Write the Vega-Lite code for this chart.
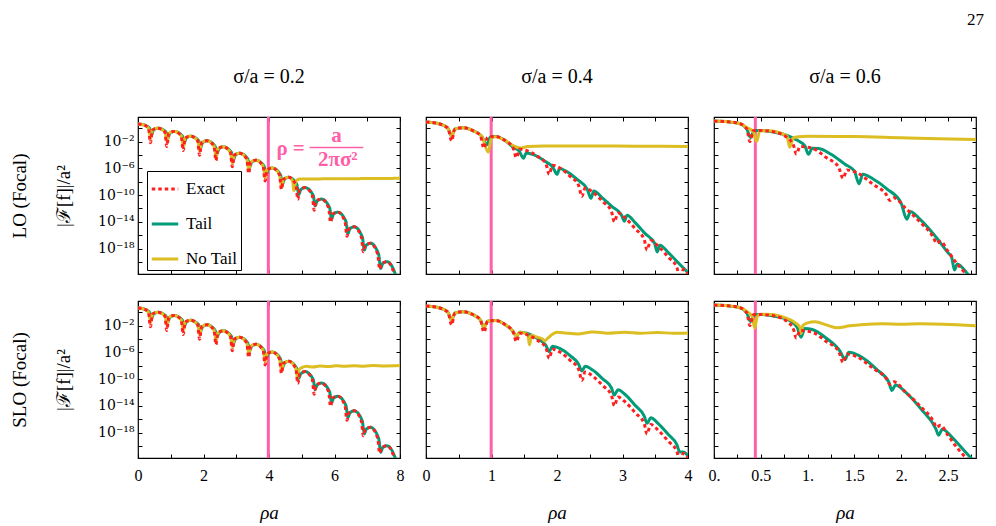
{
  "$schema": "https://vega.github.io/schema/vega-lite/v6.json",
  "background": "white",
  "padding": {"left": 9, "top": 10, "right": 10, "bottom": 4},
  "title": {"text": "27", "anchor": "end", "font": "Liberation Serif", "fontSize": 17, "offset": 20, "dx": 7, "baseline": "bottom"},
  "config": {
    "font": "Liberation Serif",
    "view": {"stroke": "black", "strokeWidth": 1.2},
    "title": {"font": "Liberation Serif", "fontWeight": "normal", "color": "black"},
    "axis": {"domain": false, "tickColor": "black", "tickSize": -4, "tickWidth": 1, "labelFont": "Liberation Serif", "labelColor": "black", "labelFlush": false, "labelOverlap": false, "gridColor": "#cfcfcf", "gridWidth": 1, "titleFont": "Liberation Serif", "titleFontWeight": "normal", "titleColor": "black"},
    "axisTop": {"labels": false, "grid": false},
    "axisRight": {"labels": false, "grid": false},
    "axisLeft": {"grid": true, "labelPadding": 8, "labelFontSize": 14, "labelFont": "DejaVu Serif"},
    "axisBottom": {"grid": true, "labelPadding": 13, "labelFontSize": 16, "labelFont": "Liberation Serif"}
  },
  "datasets": {
    "e1": [{"x":0,"y":4},{"x":0.16,"y":3.2},{"x":0.32,"y":1},{"x":0.38,"y":6.3e-3},{"x":0.44,"y":0.5},{"x":0.6,"y":1},{"x":0.82,"y":0.28},{"x":0.88,"y":1.8e-3},{"x":0.94,"y":0.16},{"x":1.1,"y":0.32},{"x":1.32,"y":7.1e-2},{"x":1.38,"y":4.5e-4},{"x":1.44,"y":3.2e-2},{"x":1.6,"y":6.3e-2},{"x":1.82,"y":1.4e-2},{"x":1.88,"y":8.9e-5},{"x":1.94,"y":6.3e-3},{"x":2.1,"y":1.3e-2},{"x":2.32,"y":2.2e-3},{"x":2.38,"y":1.4e-5},{"x":2.44,"y":7.9e-4},{"x":2.6,"y":1.6e-3},{"x":2.82,"y":2.6e-4},{"x":2.88,"y":1.7e-6},{"x":2.94,"y":8.9e-5},{"x":3.1,"y":1.8e-4},{"x":3.32,"y":2.6e-5},{"x":3.38,"y":1.7e-7},{"x":3.44,"y":7.9e-6},{"x":3.6,"y":1.6e-5},{"x":3.82,"y":2.1e-6},{"x":3.88,"y":1.3e-8},{"x":3.94,"y":5.6e-7},{"x":4.1,"y":1.1e-6},{"x":4.32,"y":1.1e-7},{"x":4.38,"y":7.1e-10},{"x":4.44,"y":2.2e-8},{"x":4.6,"y":4.5e-8},{"x":4.82,"y":3.7e-9},{"x":4.88,"y":2.3e-11},{"x":4.94,"y":6.3e-10},{"x":5.1,"y":1.3e-9},{"x":5.32,"y":8.9e-11},{"x":5.38,"y":5.6e-13},{"x":5.44,"y":1.3e-11},{"x":5.6,"y":2.5e-11},{"x":5.82,"y":1.3e-12},{"x":5.88,"y":8.3e-15},{"x":5.94,"y":1.4e-13},{"x":6.1,"y":2.8e-13},{"x":6.32,"y":1.1e-14},{"x":6.38,"y":7.1e-17},{"x":6.44,"y":8.9e-16},{"x":6.6,"y":1.8e-15},{"x":6.82,"y":5.2e-17},{"x":6.88,"y":3.3e-19},{"x":6.94,"y":3.2e-18},{"x":7.1,"y":6.3e-18},{"x":7.32,"y":1.3e-19},{"x":7.38,"y":8.3e-22},{"x":7.44,"y":5.6e-21},{"x":7.6,"y":1.1e-20},{"x":7.82,"y":1.9e-22},{"x":7.88,"y":1e-24}],
    "t1": [{"x":0,"y":4},{"x":0.16,"y":3.2},{"x":0.35,"y":1},{"x":0.41,"y":0.1},{"x":0.47,"y":0.5},{"x":0.6,"y":1},{"x":0.85,"y":0.28},{"x":0.91,"y":3.2e-2},{"x":0.97,"y":0.16},{"x":1.1,"y":0.32},{"x":1.35,"y":7.1e-2},{"x":1.41,"y":6.3e-3},{"x":1.47,"y":3.2e-2},{"x":1.6,"y":6.3e-2},{"x":1.85,"y":1.4e-2},{"x":1.91,"y":1.26e-3},{"x":1.97,"y":6.3e-3},{"x":2.1,"y":1.3e-2},{"x":2.35,"y":2.2e-3},{"x":2.41,"y":1.6e-4},{"x":2.47,"y":7.9e-4},{"x":2.6,"y":1.6e-3},{"x":2.85,"y":2.6e-4},{"x":2.91,"y":1.8e-5},{"x":2.97,"y":8.9e-5},{"x":3.1,"y":1.8e-4},{"x":3.35,"y":2.6e-5},{"x":3.41,"y":1.6e-6},{"x":3.47,"y":7.9e-6},{"x":3.6,"y":1.6e-5},{"x":3.85,"y":2.1e-6},{"x":3.91,"y":1.1e-7},{"x":3.97,"y":5.6e-7},{"x":4.1,"y":1.1e-6},{"x":4.35,"y":1.1e-7},{"x":4.41,"y":4.5e-9},{"x":4.47,"y":2.2e-8},{"x":4.6,"y":4.5e-8},{"x":4.85,"y":3.7e-9},{"x":4.91,"y":1.26e-10},{"x":4.97,"y":6.3e-10},{"x":5.1,"y":1.3e-9},{"x":5.35,"y":8.9e-11},{"x":5.41,"y":2.5e-12},{"x":5.47,"y":1.3e-11},{"x":5.6,"y":2.5e-11},{"x":5.85,"y":1.3e-12},{"x":5.91,"y":2.8e-14},{"x":5.97,"y":1.4e-13},{"x":6.1,"y":2.8e-13},{"x":6.35,"y":1.1e-14},{"x":6.41,"y":1.8e-16},{"x":6.47,"y":8.9e-16},{"x":6.6,"y":1.8e-15},{"x":6.85,"y":5.2e-17},{"x":6.91,"y":6.3e-19},{"x":6.97,"y":3.2e-18},{"x":7.1,"y":6.3e-18},{"x":7.35,"y":1.3e-19},{"x":7.41,"y":1.1e-21},{"x":7.47,"y":5.6e-21},{"x":7.6,"y":1.1e-20},{"x":7.85,"y":1.9e-22},{"x":7.91,"y":1e-23},{"x":8,"y":1e-24}],
    "n1L": [{"x":0,"y":4},{"x":0.16,"y":3.2},{"x":0.32,"y":1},{"x":0.39,"y":3.2e-2},{"x":0.44,"y":0.5},{"x":0.6,"y":1},{"x":0.82,"y":0.28},{"x":0.89,"y":1e-2},{"x":0.94,"y":0.16},{"x":1.1,"y":0.32},{"x":1.32,"y":7.1e-2},{"x":1.39,"y":2e-3},{"x":1.44,"y":3.2e-2},{"x":1.6,"y":6.3e-2},{"x":1.82,"y":1.4e-2},{"x":1.89,"y":4e-4},{"x":1.94,"y":6.3e-3},{"x":2.1,"y":1.3e-2},{"x":2.32,"y":2.2e-3},{"x":2.39,"y":5e-5},{"x":2.44,"y":7.9e-4},{"x":2.6,"y":1.6e-3},{"x":2.82,"y":2.6e-4},{"x":2.89,"y":5.6e-6},{"x":2.94,"y":8.9e-5},{"x":3.1,"y":1.8e-4},{"x":3.32,"y":2.6e-5},{"x":3.39,"y":5e-7},{"x":3.44,"y":7.9e-6},{"x":3.6,"y":1.6e-5},{"x":3.82,"y":2.1e-6},{"x":3.89,"y":3.5e-8},{"x":3.94,"y":5.6e-7},{"x":4.1,"y":1.1e-6},{"x":4.32,"y":1.1e-7},{"x":4.39,"y":1.4e-9},{"x":4.44,"y":2.2e-8},{"x":4.6,"y":4.5e-8},{"x":4.72,"y":1.26e-8},{"x":4.76,"y":5e-10},{"x":4.82,"y":1.26e-8},{"x":4.95,"y":2.5e-8},{"x":5.5,"y":2.6e-8},{"x":6.5,"y":2.8e-8},{"x":7.5,"y":3e-8},{"x":8,"y":3.2e-8}],
    "n1S": [{"x":0,"y":4},{"x":0.16,"y":3.2},{"x":0.32,"y":1},{"x":0.39,"y":3.2e-2},{"x":0.44,"y":0.5},{"x":0.6,"y":1},{"x":0.82,"y":0.28},{"x":0.89,"y":1e-2},{"x":0.94,"y":0.16},{"x":1.1,"y":0.32},{"x":1.32,"y":7.1e-2},{"x":1.39,"y":2e-3},{"x":1.44,"y":3.2e-2},{"x":1.6,"y":6.3e-2},{"x":1.82,"y":1.4e-2},{"x":1.89,"y":4e-4},{"x":1.94,"y":6.3e-3},{"x":2.1,"y":1.3e-2},{"x":2.32,"y":2.2e-3},{"x":2.39,"y":5e-5},{"x":2.44,"y":7.9e-4},{"x":2.6,"y":1.6e-3},{"x":2.82,"y":2.6e-4},{"x":2.89,"y":5.6e-6},{"x":2.94,"y":8.9e-5},{"x":3.1,"y":1.8e-4},{"x":3.32,"y":2.6e-5},{"x":3.39,"y":5e-7},{"x":3.44,"y":7.9e-6},{"x":3.6,"y":1.6e-5},{"x":3.82,"y":2.1e-6},{"x":3.89,"y":3.5e-8},{"x":3.94,"y":5.6e-7},{"x":4.1,"y":1.1e-6},{"x":4.32,"y":1.1e-7},{"x":4.39,"y":1.4e-9},{"x":4.44,"y":2.2e-8},{"x":4.6,"y":4.5e-8},{"x":4.82,"y":3.7e-9},{"x":4.87,"y":1.26e-10},{"x":4.92,"y":2.5e-9},{"x":5.0,"y":5e-9},{"x":5.15,"y":7.9e-9},{"x":5.35,"y":6.3e-9},{"x":5.55,"y":8.9e-9},{"x":5.8,"y":7.6e-9},{"x":6.05,"y":9.5e-9},{"x":6.3,"y":8e-9},{"x":6.6,"y":1e-8},{"x":6.9,"y":8.5e-9},{"x":7.2,"y":1.05e-8},{"x":7.5,"y":9.3e-9},{"x":8,"y":1.05e-8}],
    "e2": [{"x":0,"y":7.9},{"x":0.15,"y":5.6},{"x":0.28,"y":2.2},{"x":0.34,"y":0.79},{"x":0.39,"y":1.26e-2},{"x":0.44,"y":0.71},{"x":0.57,"y":1.12},{"x":0.72,"y":0.4},{"x":0.83,"y":7.1e-2},{"x":0.885,"y":1e-3},{"x":0.94,"y":4.5e-2},{"x":1.06,"y":5.6e-2},{"x":1.2,"y":1.6e-2},{"x":1.33,"y":1.1e-3},{"x":1.38,"y":4e-5},{"x":1.43,"y":7.1e-4},{"x":1.55,"y":4e-4},{"x":1.7,"y":6.3e-5},{"x":1.83,"y":5e-6},{"x":1.88,"y":1.26e-7},{"x":1.93,"y":2.8e-6},{"x":2.05,"y":1e-6},{"x":2.2,"y":6.3e-8},{"x":2.33,"y":2.8e-9},{"x":2.38,"y":6.3e-11},{"x":2.43,"y":1.12e-9},{"x":2.55,"y":2.5e-10},{"x":2.7,"y":1e-11},{"x":2.83,"y":4e-13},{"x":2.875,"y":1e-14},{"x":2.93,"y":2e-13},{"x":3.05,"y":3.2e-14},{"x":3.2,"y":7.9e-16},{"x":3.33,"y":2.5e-17},{"x":3.375,"y":6.3e-19},{"x":3.43,"y":1.6e-17},{"x":3.55,"y":2e-18},{"x":3.7,"y":5e-20},{"x":3.83,"y":1.6e-21},{"x":3.875,"y":3.2e-23},{"x":3.93,"y":7.9e-22},{"x":4,"y":1.6e-22}],
    "t2L": [{"x":0,"y":7.9},{"x":0.15,"y":5.6},{"x":0.28,"y":2.2},{"x":0.34,"y":0.79},{"x":0.39,"y":6.3e-2},{"x":0.44,"y":0.71},{"x":0.57,"y":1.12},{"x":0.72,"y":0.4},{"x":0.85,"y":6.3e-2},{"x":0.93,"y":3.2e-3},{"x":0.98,"y":4.5e-2},{"x":1.06,"y":5.6e-2},{"x":1.2,"y":1.6e-2},{"x":1.33,"y":1.4e-3},{"x":1.42,"y":4e-4},{"x":1.49,"y":3.2e-5},{"x":1.53,"y":2e-4},{"x":1.65,"y":1e-4},{"x":1.8,"y":1.4e-5},{"x":1.94,"y":1.26e-6},{"x":2.0,"y":1.26e-7},{"x":2.04,"y":8.9e-7},{"x":2.15,"y":3.2e-7},{"x":2.3,"y":2.5e-8},{"x":2.46,"y":7.9e-10},{"x":2.52,"y":3.2e-11},{"x":2.56,"y":4e-10},{"x":2.7,"y":3.2e-11},{"x":2.85,"y":1.6e-12},{"x":2.98,"y":1.26e-13},{"x":3.03,"y":1.26e-14},{"x":3.07,"y":1e-13},{"x":3.2,"y":6.3e-15},{"x":3.35,"y":1.6e-16},{"x":3.49,"y":6.3e-18},{"x":3.53,"y":3.2e-19},{"x":3.57,"y":3.2e-18},{"x":3.7,"y":2.5e-19},{"x":3.85,"y":7.9e-21},{"x":4,"y":2.5e-22}],
    "n2L": [{"x":0,"y":7.9},{"x":0.15,"y":5.6},{"x":0.28,"y":2.2},{"x":0.34,"y":0.79},{"x":0.395,"y":6.3e-2},{"x":0.44,"y":0.71},{"x":0.57,"y":1.12},{"x":0.72,"y":0.4},{"x":0.85,"y":6.3e-2},{"x":0.95,"y":2.5e-4},{"x":1.0,"y":4e-2},{"x":1.06,"y":5e-2},{"x":1.2,"y":1.6e-2},{"x":1.33,"y":2.5e-3},{"x":1.45,"y":1.1e-3},{"x":1.55,"y":1.8e-3},{"x":1.8,"y":2.2e-3},{"x":2.5,"y":2.2e-3},{"x":3.2,"y":2e-3},{"x":4,"y":1.8e-3}],
    "t2S": [{"x":0,"y":7.9},{"x":0.15,"y":5.6},{"x":0.28,"y":2.2},{"x":0.34,"y":0.79},{"x":0.39,"y":6.3e-2},{"x":0.44,"y":0.71},{"x":0.57,"y":1.12},{"x":0.72,"y":0.4},{"x":0.83,"y":7.1e-2},{"x":0.885,"y":5e-3},{"x":0.94,"y":4.5e-2},{"x":1.06,"y":5.6e-2},{"x":1.2,"y":1.6e-2},{"x":1.33,"y":1.26e-3},{"x":1.38,"y":2.5e-4},{"x":1.43,"y":1e-3},{"x":1.55,"y":6.3e-4},{"x":1.7,"y":1.12e-4},{"x":1.83,"y":1.12e-5},{"x":1.88,"y":1.26e-6},{"x":1.93,"y":7.9e-6},{"x":2.05,"y":3.5e-6},{"x":2.2,"y":3.2e-7},{"x":2.33,"y":1.6e-8},{"x":2.38,"y":1.6e-9},{"x":2.43,"y":7.9e-9},{"x":2.55,"y":2e-9},{"x":2.7,"y":1e-10},{"x":2.83,"y":5e-12},{"x":2.875,"y":4e-13},{"x":2.93,"y":2.5e-12},{"x":3.05,"y":4e-13},{"x":3.2,"y":1e-14},{"x":3.33,"y":3.2e-16},{"x":3.375,"y":2.5e-17},{"x":3.43,"y":1.6e-16},{"x":3.55,"y":2e-17},{"x":3.7,"y":5e-19},{"x":3.83,"y":1.6e-20},{"x":3.875,"y":1.26e-21},{"x":3.93,"y":1.26e-21},{"x":4,"y":3.2e-22}],
    "n2S": [{"x":0,"y":7.9},{"x":0.15,"y":5.6},{"x":0.28,"y":2.2},{"x":0.34,"y":0.79},{"x":0.39,"y":6.3e-2},{"x":0.44,"y":0.71},{"x":0.57,"y":1.12},{"x":0.72,"y":0.4},{"x":0.83,"y":7.1e-2},{"x":0.885,"y":5e-3},{"x":0.94,"y":4.5e-2},{"x":1.06,"y":5.6e-2},{"x":1.2,"y":1.6e-2},{"x":1.33,"y":1.26e-3},{"x":1.38,"y":2.5e-4},{"x":1.43,"y":1e-3},{"x":1.5,"y":7.9e-4},{"x":1.555,"y":4e-4},{"x":1.58,"y":1.26e-5},{"x":1.61,"y":3.2e-4},{"x":1.7,"y":1.8e-4},{"x":1.78,"y":1e-4},{"x":1.81,"y":5e-5},{"x":1.86,"y":1.26e-4},{"x":1.93,"y":5e-4},{"x":2.0,"y":1e-3},{"x":2.15,"y":7.1e-4},{"x":2.32,"y":5.6e-4},{"x":2.5,"y":1e-3},{"x":2.57,"y":1.12e-3},{"x":2.77,"y":7.1e-4},{"x":3.03,"y":1e-3},{"x":3.28,"y":7.1e-4},{"x":3.53,"y":8.9e-4},{"x":3.78,"y":7.1e-4},{"x":4,"y":7.9e-4}],
    "e3": [{"x":0,"y":11.2},{"x":0.15,"y":8.9},{"x":0.28,"y":4.5},{"x":0.35,"y":0.79},{"x":0.385,"y":1e-2},{"x":0.42,"y":0.4},{"x":0.5,"y":0.45},{"x":0.65,"y":0.25},{"x":0.78,"y":4e-2},{"x":0.85,"y":2.5e-3},{"x":0.88,"y":1.4e-4},{"x":0.92,"y":1.8e-3},{"x":1.05,"y":1e-3},{"x":1.2,"y":4e-5},{"x":1.33,"y":1.6e-6},{"x":1.38,"y":3.2e-8},{"x":1.42,"y":5.6e-7},{"x":1.53,"y":2e-7},{"x":1.7,"y":4e-9},{"x":1.84,"y":1.26e-10},{"x":1.88,"y":1.6e-11},{"x":1.92,"y":4e-11},{"x":2.05,"y":1e-12},{"x":2.2,"y":1e-14},{"x":2.34,"y":6.3e-17},{"x":2.38,"y":6.3e-18},{"x":2.42,"y":1.26e-17},{"x":2.5,"y":4e-19},{"x":2.6,"y":5e-21},{"x":2.7,"y":1.26e-22},{"x":2.8,"y":3.2e-24}],
    "t3L": [{"x":0,"y":11.2},{"x":0.15,"y":8.9},{"x":0.28,"y":4.5},{"x":0.35,"y":0.79},{"x":0.39,"y":4e-2},{"x":0.43,"y":0.4},{"x":0.5,"y":0.45},{"x":0.65,"y":0.25},{"x":0.78,"y":7.9e-2},{"x":0.9,"y":1.26e-2},{"x":0.97,"y":2.5e-3},{"x":1.01,"y":1.26e-4},{"x":1.05,"y":1e-3},{"x":1.12,"y":8.9e-4},{"x":1.25,"y":1.26e-4},{"x":1.4,"y":4e-6},{"x":1.5,"y":4e-7},{"x":1.55,"y":5e-9},{"x":1.59,"y":1.26e-7},{"x":1.7,"y":2.5e-8},{"x":1.85,"y":7.9e-10},{"x":2.0,"y":6.3e-12},{"x":2.06,"y":2.5e-14},{"x":2.1,"y":3.2e-13},{"x":2.2,"y":2.5e-14},{"x":2.35,"y":1.26e-16},{"x":2.5,"y":2.5e-19},{"x":2.54,"y":5e-20},{"x":2.57,"y":6.3e-22},{"x":2.6,"y":5e-21},{"x":2.7,"y":2.5e-22},{"x":2.8,"y":6.3e-24}],
    "n3L": [{"x":0,"y":11.2},{"x":0.15,"y":8.9},{"x":0.28,"y":4.5},{"x":0.36,"y":1},{"x":0.42,"y":0.32},{"x":0.455,"y":1e-2},{"x":0.49,"y":0.4},{"x":0.6,"y":0.4},{"x":0.72,"y":0.16},{"x":0.78,"y":6.3e-2},{"x":0.81,"y":1.4e-3},{"x":0.845,"y":3.2e-2},{"x":0.9,"y":5e-2},{"x":1.0,"y":6e-2},{"x":1.5,"y":5.6e-2},{"x":2.0,"y":3.5e-2},{"x":2.4,"y":2.5e-2},{"x":2.8,"y":2e-2}],
    "t3S": [{"x":0,"y":11.2},{"x":0.15,"y":8.9},{"x":0.28,"y":4.5},{"x":0.35,"y":0.79},{"x":0.39,"y":4e-2},{"x":0.43,"y":0.4},{"x":0.5,"y":0.45},{"x":0.65,"y":0.25},{"x":0.8,"y":6.3e-2},{"x":0.89,"y":5e-3},{"x":0.93,"y":1.8e-4},{"x":0.97,"y":3.5e-3},{"x":1.05,"y":2.5e-3},{"x":1.2,"y":1.26e-4},{"x":1.35,"y":1.26e-6},{"x":1.4,"y":7.9e-8},{"x":1.44,"y":1e-6},{"x":1.55,"y":3.2e-7},{"x":1.75,"y":2e-9},{"x":1.87,"y":3.2e-11},{"x":1.9,"y":2e-12},{"x":1.94,"y":1.26e-11},{"x":2.05,"y":1e-12},{"x":2.22,"y":2.5e-15},{"x":2.37,"y":4e-18},{"x":2.4,"y":4e-19},{"x":2.44,"y":3.2e-18},{"x":2.55,"y":1.6e-19},{"x":2.68,"y":1.6e-21},{"x":2.76,"y":1e-22},{"x":2.8,"y":2.5e-23}],
    "n3S": [{"x":0,"y":11.2},{"x":0.15,"y":8.9},{"x":0.28,"y":4.5},{"x":0.36,"y":1},{"x":0.41,"y":0.2},{"x":0.435,"y":4e-3},{"x":0.46,"y":0.2},{"x":0.5,"y":0.5},{"x":0.62,"y":0.45},{"x":0.75,"y":0.16},{"x":0.87,"y":2.5e-2},{"x":0.92,"y":5e-3},{"x":0.93,"y":6.3e-4},{"x":0.95,"y":1e-2},{"x":1.0,"y":2.5e-2},{"x":1.08,"y":3.5e-2},{"x":1.2,"y":1.26e-2},{"x":1.32,"y":4.5e-3},{"x":1.45,"y":8.9e-3},{"x":1.6,"y":1.4e-2},{"x":1.8,"y":1.8e-2},{"x":2.0,"y":1.6e-2},{"x":2.2,"y":1.8e-2},{"x":2.45,"y":1.6e-2},{"x":2.8,"y":8.9e-3}]
  },
  "resolve": {"scale": {"color": "independent", "strokeDash": "independent"}, "legend": {"color": "independent", "strokeDash": "independent"}},
  "columns": 3,
  "bounds": "flush",
  "spacing": {"row": 27, "column": 26},
  "concat": [
    {
      "width": 262, "height": 157,
      "title": {"text": "σ/a = 0.2", "font": "Liberation Serif", "fontSize": 20, "offset": 9, "baseline": "bottom"},
      "resolve": {"axis": {"x": "independent", "y": "independent"}},
      "layer": [
        {"data": {"values": [{}]}, "mark": {"type": "rule", "color": "#ff5fa8", "strokeWidth": 3},
         "encoding": {"x": {"datum": 3.98, "type": "quantitative", "scale": {"domain": [0, 8], "nice": false}, "axis": null}}},
        {"data": {"name": "t1"}, "mark": {"type": "line", "interpolate": "monotone", "strokeWidth": 3, "clip": true},
         "encoding": {
           "x": {"field": "x", "type": "quantitative", "scale": {"domain": [0, 8], "nice": false}, "axis": {"orient": "top", "values": [0,1,2,3,4,5,6,7,8], "title": null}},
           "y": {"field": "y", "type": "quantitative", "scale": {"type": "log", "domain": [1.6e-22, 46], "nice": false}, "axis": {"orient": "right", "values": [1,1e-2,1e-4,1e-6,1e-8,1e-10,1e-12,1e-14,1e-16,1e-18,1e-20], "title": null}},
           "color": {"datum": "Tail", "type": "nominal", "scale": {"domain": ["Exact", "Tail", "No Tail"], "range": ["#ff1f1f", "#009b77", "#dcbd22"]},
             "legend": {"orient": "none", "legendX": 9, "legendY": 54, "title": null, "fillColor": "white", "strokeColor": "black", "padding": 3, "symbolType": "stroke", "symbolSize": 700, "symbolStrokeWidth": 3, "labelFontSize": 17, "labelFont": "Liberation Serif", "labelColor": "black", "rowPadding": 12, "labelOffset": 6}},
           "strokeDash": {"datum": "Tail", "type": "nominal", "scale": {"domain": ["Exact", "Tail", "No Tail"], "range": [[3.5, 3], [1, 0], [1, 0]]},
             "legend": {"orient": "none", "legendX": 9, "legendY": 54, "title": null, "fillColor": "white", "strokeColor": "black", "padding": 3, "symbolType": "stroke", "symbolSize": 700, "symbolStrokeWidth": 3, "labelFontSize": 17, "labelFont": "Liberation Serif", "labelColor": "black", "rowPadding": 12, "labelOffset": 6}}}},
        {"data": {"name": "n1L"}, "mark": {"type": "line", "interpolate": "monotone", "strokeWidth": 3, "clip": true},
         "encoding": {
           "x": {"field": "x", "type": "quantitative", "scale": {"domain": [0, 8], "nice": false}, "axis": null},
           "y": {"field": "y", "type": "quantitative", "scale": {"type": "log", "domain": [1.6e-22, 46], "nice": false}, "axis": null},
           "color": {"datum": "No Tail", "type": "nominal", "scale": {"domain": ["Exact", "Tail", "No Tail"], "range": ["#ff1f1f", "#009b77", "#dcbd22"]},
             "legend": {"orient": "none", "legendX": 9, "legendY": 54, "title": null, "fillColor": "white", "strokeColor": "black", "padding": 3, "symbolType": "stroke", "symbolSize": 700, "symbolStrokeWidth": 3, "labelFontSize": 17, "labelFont": "Liberation Serif", "labelColor": "black", "rowPadding": 12, "labelOffset": 6}},
           "strokeDash": {"datum": "No Tail", "type": "nominal", "scale": {"domain": ["Exact", "Tail", "No Tail"], "range": [[3.5, 3], [1, 0], [1, 0]]},
             "legend": {"orient": "none", "legendX": 9, "legendY": 54, "title": null, "fillColor": "white", "strokeColor": "black", "padding": 3, "symbolType": "stroke", "symbolSize": 700, "symbolStrokeWidth": 3, "labelFontSize": 17, "labelFont": "Liberation Serif", "labelColor": "black", "rowPadding": 12, "labelOffset": 6}}}},
        {"data": {"name": "e1"}, "mark": {"type": "line", "interpolate": "monotone", "strokeWidth": 3, "clip": true},
         "encoding": {
           "x": {"field": "x", "type": "quantitative", "scale": {"domain": [0, 8], "nice": false},
             "axis": {"orient": "bottom", "values": [0,1,2,3,4,5,6,7,8], "labels": false, "title": null,
               "gridOpacity": {"condition": {"test": "datum.value % 2 == 0", "value": 1}, "value": 0}}},
           "y": {"field": "y", "type": "quantitative", "scale": {"type": "log", "domain": [1.6e-22, 46], "nice": false},
             "axis": {"orient": "left", "values": [1,1e-2,1e-4,1e-6,1e-8,1e-10,1e-12,1e-14,1e-16,1e-18,1e-20],
               "gridOpacity": {"condition": {"test": "(round(log(datum.value)/LN10) + 2) % 4 == 0", "value": 1}, "value": 0},
               "labelExpr": "(round(log(datum.value)/LN10) + 2) % 4 != 0 ? '' : datum.value > 1e-3 ? '10⁻²' : datum.value > 1e-7 ? '10⁻⁶' : datum.value > 1e-11 ? '10⁻¹⁰' : datum.value > 1e-15 ? '10⁻¹⁴' : '10⁻¹⁸'",
               "title": ["LO (Focal)", "|ℱ[f]|/a²"], "titleFontSize": 19, "titleLineHeight": 44, "titlePadding": 24}},
           "color": {"datum": "Exact", "type": "nominal", "scale": {"domain": ["Exact", "Tail", "No Tail"], "range": ["#ff1f1f", "#009b77", "#dcbd22"]},
             "legend": {"orient": "none", "legendX": 9, "legendY": 54, "title": null, "fillColor": "white", "strokeColor": "black", "padding": 3, "symbolType": "stroke", "symbolSize": 700, "symbolStrokeWidth": 3, "labelFontSize": 17, "labelFont": "Liberation Serif", "labelColor": "black", "rowPadding": 12, "labelOffset": 6}},
           "strokeDash": {"datum": "Exact", "type": "nominal", "scale": {"domain": ["Exact", "Tail", "No Tail"], "range": [[3.5, 3], [1, 0], [1, 0]]},
             "legend": {"orient": "none", "legendX": 9, "legendY": 54, "title": null, "fillColor": "white", "strokeColor": "black", "padding": 3, "symbolType": "stroke", "symbolSize": 700, "symbolStrokeWidth": 3, "labelFontSize": 17, "labelFont": "Liberation Serif", "labelColor": "black", "rowPadding": 12, "labelOffset": 6}}}},
        {"data": {"values": [{}]}, "mark": {"type": "text", "color": "#ff5fa8", "fontSize": 21, "fontWeight": "bold", "font": "Liberation Serif"},
         "encoding": {"x": {"datum": 4.66, "type": "quantitative", "scale": {"domain": [0, 8], "nice": false}, "axis": null},
                      "y": {"datum": 8e-4, "type": "quantitative", "scale": {"type": "log", "domain": [1.6e-22, 46], "nice": false}, "axis": null},
                      "text": {"value": "ρ ="}}},
        {"data": {"values": [{}]}, "mark": {"type": "text", "color": "#ff5fa8", "fontSize": 21, "fontWeight": "bold", "font": "Liberation Serif"},
         "encoding": {"x": {"datum": 6.06, "type": "quantitative", "scale": {"domain": [0, 8], "nice": false}, "axis": null},
                      "y": {"datum": 6.3e-2, "type": "quantitative", "scale": {"type": "log", "domain": [1.6e-22, 46], "nice": false}, "axis": null},
                      "text": {"value": "a"}}},
        {"data": {"values": [{}]}, "mark": {"type": "text", "color": "#ff5fa8", "fontSize": 21, "fontWeight": "bold", "font": "Liberation Serif"},
         "encoding": {"x": {"datum": 6.1, "type": "quantitative", "scale": {"domain": [0, 8], "nice": false}, "axis": null},
                      "y": {"datum": 1.7e-5, "type": "quantitative", "scale": {"type": "log", "domain": [1.6e-22, 46], "nice": false}, "axis": null},
                      "text": {"value": "2πσ²"}}},
        {"data": {"values": [{}]}, "mark": {"type": "rule", "color": "#ff5fa8", "strokeWidth": 1.5},
         "encoding": {"x": {"datum": 5.24, "type": "quantitative", "scale": {"domain": [0, 8], "nice": false}, "axis": null},
                      "x2": {"datum": 6.88},
                      "y": {"datum": 1.3e-3, "type": "quantitative", "scale": {"type": "log", "domain": [1.6e-22, 46], "nice": false}, "axis": null}}}
      ]
    },
    {
      "width": 262, "height": 157,
      "title": {"text": "σ/a = 0.4", "font": "Liberation Serif", "fontSize": 20, "offset": 9, "baseline": "bottom"},
      "resolve": {"axis": {"x": "independent", "y": "independent"}},
      "layer": [
        {"data": {"values": [{}]}, "mark": {"type": "rule", "color": "#ff5fa8", "strokeWidth": 3},
         "encoding": {"x": {"datum": 0.995, "type": "quantitative", "scale": {"domain": [0, 4], "nice": false}, "axis": null}}},
        {"data": {"name": "t2L"}, "mark": {"type": "line", "interpolate": "monotone", "strokeWidth": 3, "clip": true, "color": "#009b77"},
         "encoding": {
           "x": {"field": "x", "type": "quantitative", "scale": {"domain": [0, 4], "nice": false}, "axis": {"orient": "top", "values": [0,0.5,1,1.5,2,2.5,3,3.5,4], "title": null}},
           "y": {"field": "y", "type": "quantitative", "scale": {"type": "log", "domain": [1.6e-22, 46], "nice": false}, "axis": {"orient": "right", "values": [1,1e-2,1e-4,1e-6,1e-8,1e-10,1e-12,1e-14,1e-16,1e-18,1e-20], "title": null}}}},
        {"data": {"name": "n2L"}, "mark": {"type": "line", "interpolate": "monotone", "strokeWidth": 3, "clip": true, "color": "#dcbd22"},
         "encoding": {
           "x": {"field": "x", "type": "quantitative", "scale": {"domain": [0, 4], "nice": false}, "axis": null},
           "y": {"field": "y", "type": "quantitative", "scale": {"type": "log", "domain": [1.6e-22, 46], "nice": false}, "axis": null}}},
        {"data": {"name": "e2"}, "mark": {"type": "line", "interpolate": "monotone", "strokeWidth": 3, "strokeDash": [3.5, 3], "clip": true, "color": "#ff1f1f"},
         "encoding": {
           "x": {"field": "x", "type": "quantitative", "scale": {"domain": [0, 4], "nice": false},
             "axis": {"orient": "bottom", "values": [0,0.5,1,1.5,2,2.5,3,3.5,4], "labels": false, "title": null,
               "gridOpacity": {"condition": {"test": "datum.value % 1 == 0", "value": 1}, "value": 0}}},
           "y": {"field": "y", "type": "quantitative", "scale": {"type": "log", "domain": [1.6e-22, 46], "nice": false},
             "axis": {"orient": "left", "values": [1,1e-2,1e-4,1e-6,1e-8,1e-10,1e-12,1e-14,1e-16,1e-18,1e-20], "labels": false, "title": null,
               "gridOpacity": {"condition": {"test": "(round(log(datum.value)/LN10) + 2) % 4 == 0", "value": 1}, "value": 0}}}}}
      ]
    },
    {
      "width": 262, "height": 157,
      "title": {"text": "σ/a = 0.6", "font": "Liberation Serif", "fontSize": 20, "offset": 9, "baseline": "bottom"},
      "resolve": {"axis": {"x": "independent", "y": "independent"}},
      "layer": [
        {"data": {"values": [{}]}, "mark": {"type": "rule", "color": "#ff5fa8", "strokeWidth": 3},
         "encoding": {"x": {"datum": 0.442, "type": "quantitative", "scale": {"domain": [0, 2.8], "nice": false}, "axis": null}}},
        {"data": {"name": "t3L"}, "mark": {"type": "line", "interpolate": "monotone", "strokeWidth": 3, "clip": true, "color": "#009b77"},
         "encoding": {
           "x": {"field": "x", "type": "quantitative", "scale": {"domain": [0, 2.8], "nice": false}, "axis": {"orient": "top", "values": [0,0.25,0.5,0.75,1,1.25,1.5,1.75,2,2.25,2.5,2.75], "title": null}},
           "y": {"field": "y", "type": "quantitative", "scale": {"type": "log", "domain": [1.6e-22, 46], "nice": false}, "axis": {"orient": "right", "values": [1,1e-2,1e-4,1e-6,1e-8,1e-10,1e-12,1e-14,1e-16,1e-18,1e-20], "title": null}}}},
        {"data": {"name": "n3L"}, "mark": {"type": "line", "interpolate": "monotone", "strokeWidth": 3, "clip": true, "color": "#dcbd22"},
         "encoding": {
           "x": {"field": "x", "type": "quantitative", "scale": {"domain": [0, 2.8], "nice": false}, "axis": null},
           "y": {"field": "y", "type": "quantitative", "scale": {"type": "log", "domain": [1.6e-22, 46], "nice": false}, "axis": null}}},
        {"data": {"name": "e3"}, "mark": {"type": "line", "interpolate": "monotone", "strokeWidth": 3, "strokeDash": [3.5, 3], "clip": true, "color": "#ff1f1f"},
         "encoding": {
           "x": {"field": "x", "type": "quantitative", "scale": {"domain": [0, 2.8], "nice": false},
             "axis": {"orient": "bottom", "values": [0,0.25,0.5,0.75,1,1.25,1.5,1.75,2,2.25,2.5,2.75], "labels": false, "title": null,
               "gridOpacity": {"condition": {"test": "(datum.value * 4) % 2 == 0", "value": 1}, "value": 0}}},
           "y": {"field": "y", "type": "quantitative", "scale": {"type": "log", "domain": [1.6e-22, 46], "nice": false},
             "axis": {"orient": "left", "values": [1,1e-2,1e-4,1e-6,1e-8,1e-10,1e-12,1e-14,1e-16,1e-18,1e-20], "labels": false, "title": null,
               "gridOpacity": {"condition": {"test": "(round(log(datum.value)/LN10) + 2) % 4 == 0", "value": 1}, "value": 0}}}}}
      ]
    },
    {
      "width": 262, "height": 157,
      "resolve": {"axis": {"x": "independent", "y": "independent"}},
      "layer": [
        {"data": {"values": [{}]}, "mark": {"type": "rule", "color": "#ff5fa8", "strokeWidth": 3},
         "encoding": {"x": {"datum": 3.98, "type": "quantitative", "scale": {"domain": [0, 8], "nice": false}, "axis": null}}},
        {"data": {"name": "t1"}, "mark": {"type": "line", "interpolate": "monotone", "strokeWidth": 3, "clip": true, "color": "#009b77"},
         "encoding": {
           "x": {"field": "x", "type": "quantitative", "scale": {"domain": [0, 8], "nice": false}, "axis": {"orient": "top", "values": [0,1,2,3,4,5,6,7,8], "title": null}},
           "y": {"field": "y", "type": "quantitative", "scale": {"type": "log", "domain": [1.6e-22, 46], "nice": false}, "axis": {"orient": "right", "values": [1,1e-2,1e-4,1e-6,1e-8,1e-10,1e-12,1e-14,1e-16,1e-18,1e-20], "title": null}}}},
        {"data": {"name": "n1S"}, "mark": {"type": "line", "interpolate": "monotone", "strokeWidth": 3, "clip": true, "color": "#dcbd22"},
         "encoding": {
           "x": {"field": "x", "type": "quantitative", "scale": {"domain": [0, 8], "nice": false}, "axis": null},
           "y": {"field": "y", "type": "quantitative", "scale": {"type": "log", "domain": [1.6e-22, 46], "nice": false}, "axis": null}}},
        {"data": {"name": "e1"}, "mark": {"type": "line", "interpolate": "monotone", "strokeWidth": 3, "strokeDash": [3.5, 3], "clip": true, "color": "#ff1f1f"},
         "encoding": {
           "x": {"field": "x", "type": "quantitative", "scale": {"domain": [0, 8], "nice": false},
             "axis": {"orient": "bottom", "values": [0,1,2,3,4,5,6,7,8],
               "gridOpacity": {"condition": {"test": "datum.value % 2 == 0", "value": 1}, "value": 0},
               "labelExpr": "datum.value % 2 == 0 ? format(datum.value, 'd') : ''",
               "title": "ρa", "titleFontSize": 19, "titleFontStyle": "italic", "titlePadding": 20}},
           "y": {"field": "y", "type": "quantitative", "scale": {"type": "log", "domain": [1.6e-22, 46], "nice": false},
             "axis": {"orient": "left", "values": [1,1e-2,1e-4,1e-6,1e-8,1e-10,1e-12,1e-14,1e-16,1e-18,1e-20],
               "gridOpacity": {"condition": {"test": "(round(log(datum.value)/LN10) + 2) % 4 == 0", "value": 1}, "value": 0},
               "labelExpr": "(round(log(datum.value)/LN10) + 2) % 4 != 0 ? '' : datum.value > 1e-3 ? '10⁻²' : datum.value > 1e-7 ? '10⁻⁶' : datum.value > 1e-11 ? '10⁻¹⁰' : datum.value > 1e-15 ? '10⁻¹⁴' : '10⁻¹⁸'",
               "title": ["SLO (Focal)", "|ℱ[f]|/a²"], "titleFontSize": 19, "titleLineHeight": 44, "titlePadding": 24}}}}
      ]
    },
    {
      "width": 262, "height": 157,
      "resolve": {"axis": {"x": "independent", "y": "independent"}},
      "layer": [
        {"data": {"values": [{}]}, "mark": {"type": "rule", "color": "#ff5fa8", "strokeWidth": 3},
         "encoding": {"x": {"datum": 0.995, "type": "quantitative", "scale": {"domain": [0, 4], "nice": false}, "axis": null}}},
        {"data": {"name": "t2S"}, "mark": {"type": "line", "interpolate": "monotone", "strokeWidth": 3, "clip": true, "color": "#009b77"},
         "encoding": {
           "x": {"field": "x", "type": "quantitative", "scale": {"domain": [0, 4], "nice": false}, "axis": {"orient": "top", "values": [0,0.5,1,1.5,2,2.5,3,3.5,4], "title": null}},
           "y": {"field": "y", "type": "quantitative", "scale": {"type": "log", "domain": [1.6e-22, 46], "nice": false}, "axis": {"orient": "right", "values": [1,1e-2,1e-4,1e-6,1e-8,1e-10,1e-12,1e-14,1e-16,1e-18,1e-20], "title": null}}}},
        {"data": {"name": "n2S"}, "mark": {"type": "line", "interpolate": "monotone", "strokeWidth": 3, "clip": true, "color": "#dcbd22"},
         "encoding": {
           "x": {"field": "x", "type": "quantitative", "scale": {"domain": [0, 4], "nice": false}, "axis": null},
           "y": {"field": "y", "type": "quantitative", "scale": {"type": "log", "domain": [1.6e-22, 46], "nice": false}, "axis": null}}},
        {"data": {"name": "e2"}, "mark": {"type": "line", "interpolate": "monotone", "strokeWidth": 3, "strokeDash": [3.5, 3], "clip": true, "color": "#ff1f1f"},
         "encoding": {
           "x": {"field": "x", "type": "quantitative", "scale": {"domain": [0, 4], "nice": false},
             "axis": {"orient": "bottom", "values": [0,0.5,1,1.5,2,2.5,3,3.5,4],
               "gridOpacity": {"condition": {"test": "datum.value % 1 == 0", "value": 1}, "value": 0},
               "labelExpr": "datum.value % 1 == 0 ? format(datum.value, 'd') : ''",
               "title": "ρa", "titleFontSize": 19, "titleFontStyle": "italic", "titlePadding": 20}},
           "y": {"field": "y", "type": "quantitative", "scale": {"type": "log", "domain": [1.6e-22, 46], "nice": false},
             "axis": {"orient": "left", "values": [1,1e-2,1e-4,1e-6,1e-8,1e-10,1e-12,1e-14,1e-16,1e-18,1e-20], "labels": false, "title": null,
               "gridOpacity": {"condition": {"test": "(round(log(datum.value)/LN10) + 2) % 4 == 0", "value": 1}, "value": 0}}}}}
      ]
    },
    {
      "width": 262, "height": 157,
      "resolve": {"axis": {"x": "independent", "y": "independent"}},
      "layer": [
        {"data": {"values": [{}]}, "mark": {"type": "rule", "color": "#ff5fa8", "strokeWidth": 3},
         "encoding": {"x": {"datum": 0.442, "type": "quantitative", "scale": {"domain": [0, 2.8], "nice": false}, "axis": null}}},
        {"data": {"name": "t3S"}, "mark": {"type": "line", "interpolate": "monotone", "strokeWidth": 3, "clip": true, "color": "#009b77"},
         "encoding": {
           "x": {"field": "x", "type": "quantitative", "scale": {"domain": [0, 2.8], "nice": false}, "axis": {"orient": "top", "values": [0,0.25,0.5,0.75,1,1.25,1.5,1.75,2,2.25,2.5,2.75], "title": null}},
           "y": {"field": "y", "type": "quantitative", "scale": {"type": "log", "domain": [1.6e-22, 46], "nice": false}, "axis": {"orient": "right", "values": [1,1e-2,1e-4,1e-6,1e-8,1e-10,1e-12,1e-14,1e-16,1e-18,1e-20], "title": null}}}},
        {"data": {"name": "n3S"}, "mark": {"type": "line", "interpolate": "monotone", "strokeWidth": 3, "clip": true, "color": "#dcbd22"},
         "encoding": {
           "x": {"field": "x", "type": "quantitative", "scale": {"domain": [0, 2.8], "nice": false}, "axis": null},
           "y": {"field": "y", "type": "quantitative", "scale": {"type": "log", "domain": [1.6e-22, 46], "nice": false}, "axis": null}}},
        {"data": {"name": "e3"}, "mark": {"type": "line", "interpolate": "monotone", "strokeWidth": 3, "strokeDash": [3.5, 3], "clip": true, "color": "#ff1f1f"},
         "encoding": {
           "x": {"field": "x", "type": "quantitative", "scale": {"domain": [0, 2.8], "nice": false},
             "axis": {"orient": "bottom", "values": [0,0.25,0.5,0.75,1,1.25,1.5,1.75,2,2.25,2.5,2.75],
               "gridOpacity": {"condition": {"test": "(datum.value * 4) % 2 == 0", "value": 1}, "value": 0},
               "labelExpr": "(datum.value * 4) % 2 != 0 ? '' : datum.value % 1 == 0 ? format(datum.value, 'd') + '.' : format(datum.value, '.1f')",
               "title": "ρa", "titleFontSize": 19, "titleFontStyle": "italic", "titlePadding": 20}},
           "y": {"field": "y", "type": "quantitative", "scale": {"type": "log", "domain": [1.6e-22, 46], "nice": false},
             "axis": {"orient": "left", "values": [1,1e-2,1e-4,1e-6,1e-8,1e-10,1e-12,1e-14,1e-16,1e-18,1e-20], "labels": false, "title": null,
               "gridOpacity": {"condition": {"test": "(round(log(datum.value)/LN10) + 2) % 4 == 0", "value": 1}, "value": 0}}}}}
      ]
    }
  ]
}
